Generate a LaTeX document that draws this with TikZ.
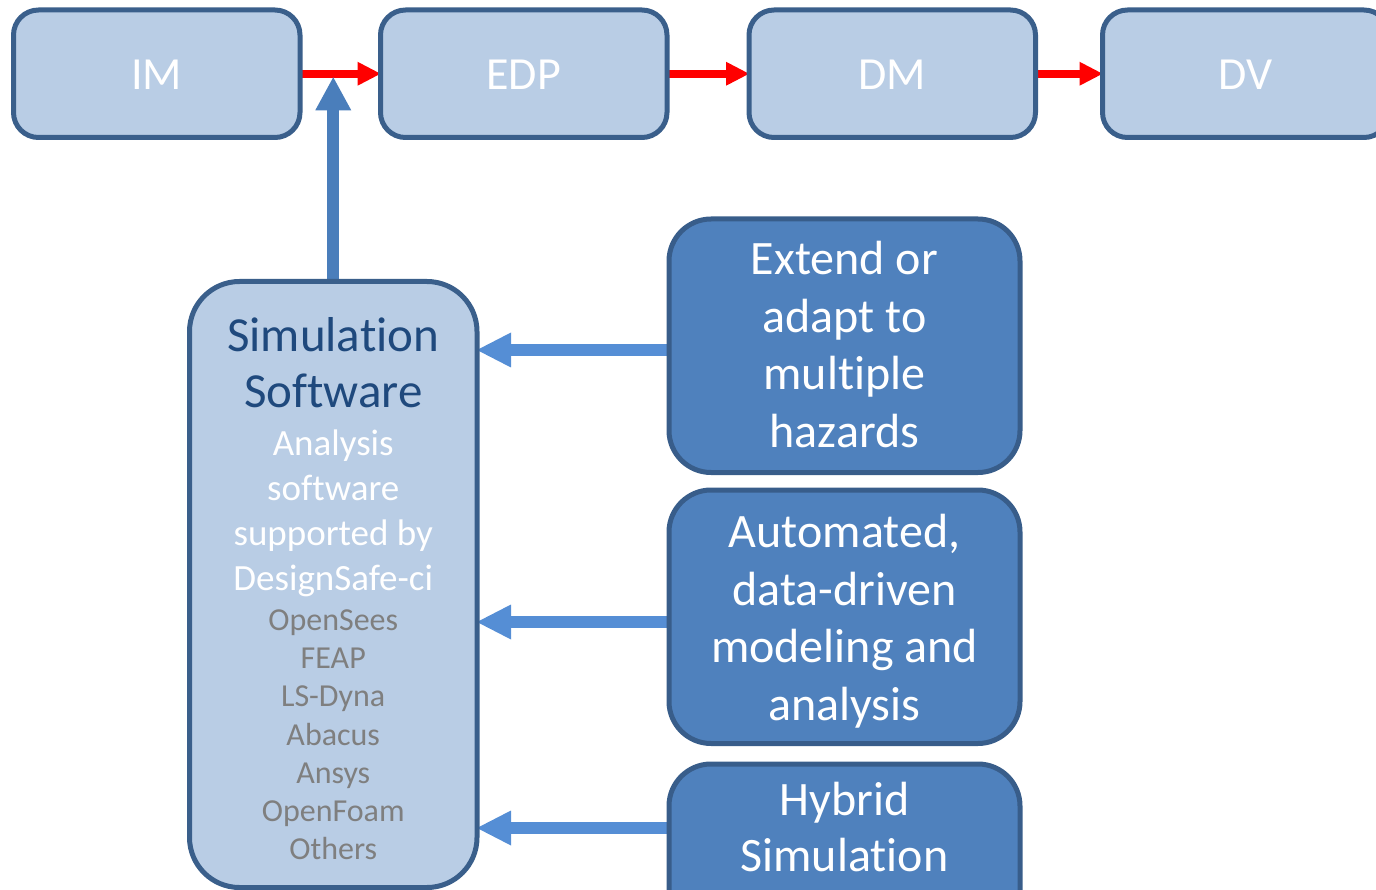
\documentclass[tikz,border=0pt]{standalone}
\usepackage{fontspec}
\setmainfont{Carlito}[Ligatures={NoCommon,NoContextual}]
\usetikzlibrary{arrows.meta}
\definecolor{lightfill}{HTML}{B9CDE5}
\definecolor{darkborder}{HTML}{3A5F8B}
\definecolor{midblue}{HTML}{4F81BD}
\definecolor{midborder}{HTML}{385D8A}
\definecolor{uparrowblue}{HTML}{4A7EBB}
\definecolor{leftarrowblue}{HTML}{558ED5}
\definecolor{titleblue}{HTML}{1F497D}
\definecolor{graytext}{HTML}{7F7F7F}
\pgfdeclarelayer{background}
\pgfsetlayers{background,main}
\begin{document}
\begin{tikzpicture}[x=1pt,y=-1pt,
  topbox/.style={draw=darkborder, fill=lightfill, line width=5pt, rounded corners=25pt,
    minimum width=286.5pt, minimum height=127.5pt, inner sep=0pt, outer sep=0pt,
    text height=32.4pt, text depth=0pt,
    text=white, font=\fontsize{46}{55}\selectfont},
  simbox/.style={draw=darkborder, fill=lightfill, line width=5pt, rounded corners=50pt,
    minimum width=287.5pt, minimum height=606pt, inner sep=0pt, outer sep=0pt},
  sidebox/.style={draw=midborder, fill=midblue, line width=5pt, rounded corners=42pt,
    minimum width=351pt, minimum height=253.5pt, inner sep=0pt, outer sep=0pt},
  txtline/.style={anchor=base, inner sep=0pt, outer sep=0pt},
  sidetext/.style={txtline, text=white, font=\fontsize{48}{57}\selectfont},
  titletext/.style={txtline, text=titleblue, font=\fontsize{49}{58}\selectfont},
  desctext/.style={txtline, text=white, font=\fontsize{37}{44}\selectfont},
  listtext/.style={txtline, text=graytext, font=\fontsize{32}{38}\selectfont},
  redarrow/.style={draw=red, line width=8pt, -{Triangle[length=23pt,width=24pt,line width=0pt]}},
  uparrow/.style={draw=uparrowblue, line width=12pt, -{Triangle[length=33pt,width=36pt,line width=0pt]}},
  leftarrow/.style={draw=leftarrowblue, line width=12pt, -{Triangle[length=34pt,width=35pt,line width=0pt]}}
]
\useasboundingbox (0,0) rectangle (1376,890);
\clip (0,0) rectangle (1376,890);

% top chain
\node[topbox] (im)  at (156.75,73.75)  {IM};
\node[topbox] (edp) at (523.75,73.75)  {EDP};
\node[topbox] (dm)  at (892.25,73.75)  {DM};
\node[topbox] (dv)  at (1245.75,73.75) {DV};

% simulation software box
\node[simbox] (sim) at (333.25,584.5) {};
\node[titletext] (t1) at (333.25,352) {Simulation};
\node[titletext] (t2) at (333.25,407) {Software};
\foreach \t [count=\i] in {Analysis, software, supported by, DesignSafe-ci}
  \node[desctext] (d\i) at (333.25,{455+45*(\i-1)}) {\t};
\foreach \t [count=\i] in {OpenSees, FEAP, LS-Dyna, Abacus, Ansys, OpenFoam, Others}
  \node[listtext] (s\i) at (333.25,{630.5+38.2*(\i-1)}) {\t};

% right boxes
\node[sidebox] (b1) at (844.5,345.75) {};
\foreach \t [count=\i] in {Extend or, adapt to, multiple, hazards}
  \node[sidetext] (b1l\i) at (844.5,{275+57.5*(\i-1)}) {\t};
\node[sidebox] (b2) at (844.5,616.75) {};
\foreach \t [count=\i] in {{Automated,}, data-driven, modeling and, analysis}
  \node[sidetext] (b2l\i) at (844.5,{547.5+57.5*(\i-1)}) {\t};
\node[sidebox] (b3) at (844.5,890.75) {};
\node[sidetext] (b3l1) at (844.5,815) {Hybrid};
\node[sidetext] (b3l2) at (844.5,871) {Simulation};

\coordinate (uptip) at (333.25,77.3);

\begin{pgfonlayer}{background}
  \draw[redarrow] (im.east) -- (edp.west);
  \draw[redarrow] (edp.east) -- (dm.west);
  \draw[redarrow] (dm.east) -- (dv.west);
  \draw[uparrow] (sim.north) -- (uptip);
  \draw[leftarrow] ([yshift=-4.25pt]b1.west) -- ([yshift=-4.25pt]b1.west -| sim.east);
  \draw[leftarrow] ([yshift=-5.25pt]b2.west) -- ([yshift=-5.25pt]b2.west -| sim.east);
  \draw[leftarrow] ([yshift=62.75pt]b3.west) -- ([yshift=62.75pt]b3.west -| sim.east);
\end{pgfonlayer}
\end{tikzpicture}
\end{document}
